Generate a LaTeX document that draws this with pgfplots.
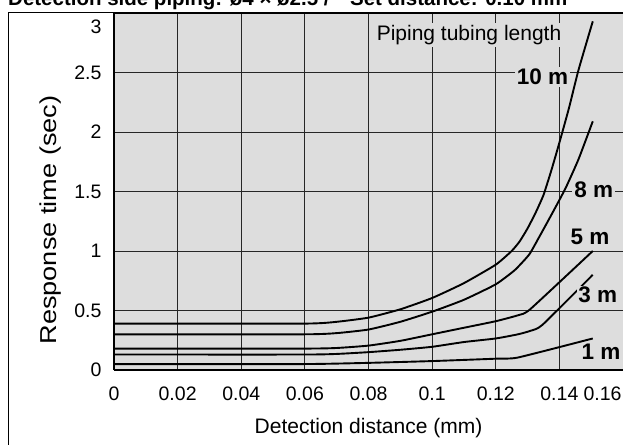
\documentclass[border=0pt]{standalone}
\usepackage{pgfplots}
\pgfplotsset{compat=1.18}
\usepackage{fontspec}
\setmainfont{Liberation Sans}
\definecolor{bggray}{RGB}{221,221,221}
\tikzset{curve/.style={black, line width=1.9pt, smooth, tension=0.3, line join=round, mark=none}}
\begin{document}
\begin{tikzpicture}[x=1pt,y=1pt]
\useasboundingbox (0,0) rectangle (623,444);
\clip (0,0) rectangle (623,444);
\node[anchor=base west, inner sep=0pt, font=\fontsize{20.5}{24}\selectfont\bfseries] at (8,438.5) {Detection side piping: ø4 × ø2.5 /\quad Set distance: 0.10 mm};
\draw[line width=1pt] (8,-20) -- (8,431) -- (700,431);
\begin{axis}[
  at={(114pt,74pt)}, anchor=south west, scale only axis,
  width=509pt, height=357pt,
  xmin=0, xmax=0.16, ymin=0, ymax=3,
  axis background/.style={fill=bggray},
  xtick={0,0.02,0.04,0.06,0.08,0.1,0.12,0.14,0.16},
  xticklabels={0,0.02,0.04,0.06,0.08,0.1,0.12,0.14,\llap{0.16\hspace{1.5pt}}},
  ytick={0,0.5,1,1.5,2,2.5,3},
  yticklabels={0,0.5,1,1.5,2,2.5,\raisebox{-21pt}[0pt][0pt]{3}},
  grid=major, major grid style={line width=0.8pt, black!85},
  major tick length=0pt,
  axis line style={line width=0.8pt},
  tick label style={font=\fontsize{19.5}{22}\selectfont},
  xticklabel style={yshift=-13pt},
  yticklabel style={xshift=-9pt},
  xlabel={Detection distance (mm)},
  ylabel={\scalebox{1.18}[1]{Response time (sec)}},
  xlabel style={font=\fontsize{21}{24}\selectfont, at={(axis description cs:0.5,-0.1625)}, anchor=center},
  ylabel style={font=\fontsize{23}{26}\selectfont, at={(axis description cs:-0.124,0.42)}, anchor=center},
  clip=false,
]
% 10 m
\addplot[curve] coordinates {(0,0.39) (0.06,0.39) (0.07,0.405) (0.08,0.44) (0.09,0.51) (0.1,0.605) (0.11,0.73) (0.12,0.885) (0.125,1.0) (0.1275,1.08) (0.13,1.19) (0.1325,1.32) (0.135,1.47) (0.1375,1.68) (0.14,1.91) (0.143,2.2) (0.146,2.52) (0.1505,2.93)};
% 8 m
\addplot[curve] coordinates {(0,0.30) (0.06,0.30) (0.07,0.31) (0.08,0.34) (0.09,0.405) (0.1,0.49) (0.11,0.59) (0.12,0.72) (0.126,0.84) (0.1305,0.97) (0.1335,1.11) (0.137,1.28) (0.1418,1.52) (0.146,1.77) (0.1505,2.09)};
% 5 m
\addplot[curve] coordinates {(0,0.18) (0.06,0.18) (0.07,0.185) (0.08,0.205) (0.09,0.245) (0.1,0.30) (0.11,0.355) (0.12,0.41) (0.127,0.46) (0.1308,0.51) (0.1505,1.0)};
% 3 m
\addplot[curve] coordinates {(0,0.13) (0.06,0.13) (0.07,0.135) (0.08,0.15) (0.09,0.17) (0.1,0.195) (0.11,0.235) (0.12,0.265) (0.127,0.30) (0.131,0.33) (0.1347,0.38) (0.1505,0.80)};
% 1 m
\addplot[curve] coordinates {(0,0.05) (0.06,0.05) (0.08,0.06) (0.1,0.075) (0.12,0.095) (0.127,0.105) (0.1505,0.265)};
\draw[line width=2.2pt] (rel axis cs:0,0) -- (rel axis cs:0,1);
\draw[line width=2.2pt] (rel axis cs:0,0) -- (rel axis cs:1,0);
\node[fill=bggray, inner sep=2pt, font=\fontsize{21}{24}\selectfont] at (axis cs:0.1116,2.815) {Piping tubing length};
\node[fill=bggray, inner sep=2pt, font=\fontsize{22.5}{26}\selectfont\bfseries] at (axis cs:0.1347,2.462) {10 m};
\node[fill=bggray, inner sep=2pt, font=\fontsize{22.5}{26}\selectfont\bfseries] at (axis cs:0.1508,1.513) {8 m};
\node[fill=bggray, inner sep=2pt, font=\fontsize{22.5}{26}\selectfont\bfseries] at (axis cs:0.1496,1.118) {5 m};
\node[fill=bggray, inner sep=1pt, font=\fontsize{22.5}{26}\selectfont\bfseries] at (axis cs:0.1521,0.630) {3 m};
\node[fill=bggray, inner sep=0.5pt, font=\fontsize{22.5}{26}\selectfont\bfseries] at (axis cs:0.1531,0.155) {1 m};
\end{axis}
\end{tikzpicture}
\end{document}
